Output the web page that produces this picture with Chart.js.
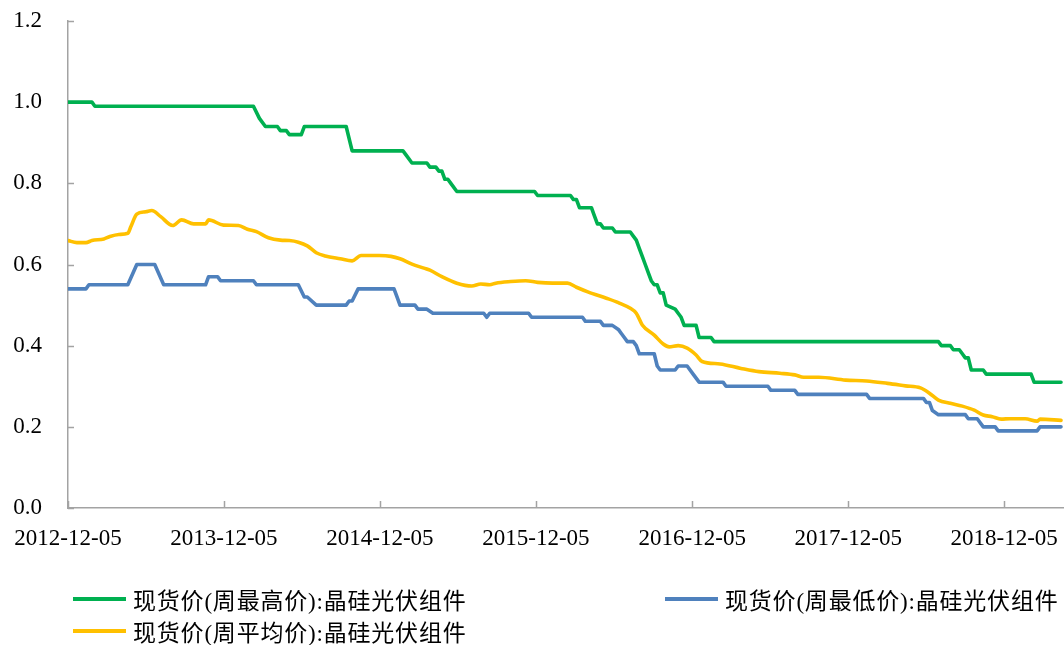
<!DOCTYPE html>
<html>
<head>
<meta charset="utf-8">
<script src="https://cdn.jsdelivr.net/npm/chart.js@4.4.0/dist/chart.umd.min.js"></script>
<style>
  html, body { margin: 0; padding: 0; background: #fff; }
  #wrap { position: relative; width: 1064px; height: 645px; overflow: hidden; }
  #c { position: absolute; left: 0; top: 0; }
  .leg { position: absolute; display: flex; align-items: center; height: 30px;
         font-family: "Liberation Serif", "Noto Sans CJK SC", serif; font-size: 23px;
         letter-spacing: 0.8px; color: #000; white-space: nowrap; }
  .sw { display: inline-block; width: 53px; height: 4px; margin-right: 7px; }
</style>
</head>
<body>
<div id="wrap">
  <canvas id="c" width="1064" height="645"></canvas>
  <div class="leg" id="leg0" style="left:73px;top:584px;"></div>
  <div class="leg" id="leg1" style="left:665px;top:584px;"></div>
  <div class="leg" id="leg2" style="left:73px;top:616px;"></div>
</div>
<script>
// Dates: weeks counted from the first observation
const startDate = '2012-12-05';
const tickLabels = ['2012-12-05','2013-12-05','2014-12-05','2015-12-05','2016-12-05','2017-12-05','2018-12-05'];
const yTicks = [0, 0.2, 0.4, 0.6, 0.8, 1.0, 1.2];

const seriesNames = ['现货价(周最高价):晶硅光伏组件', '现货价(周最低价):晶硅光伏组件', '现货价(周平均价):晶硅光伏组件'];

// 周最高价 (weeks since start, value)
const maxWeeks = [0,8,9,62,64,66,70,71,73,74,78,79,93,95,112,113,115,120,121,123,124,125,126,127,128,130,156,157,168,169,170,171,175,176,177,178,179,182,183,188,189,190,191,192,193,194,195,196,197,198,199,200,203,204,205,206,210,211,215,216,291,292,295,296,298,299,300,301,302,306,307,322,323,332];
const maxValues = [1.00,1.00,0.99,0.99,0.96,0.94,0.94,0.93,0.93,0.92,0.92,0.94,0.94,0.88,0.88,0.87,0.85,0.85,0.84,0.84,0.83,0.83,0.81,0.81,0.80,0.78,0.78,0.77,0.77,0.76,0.76,0.74,0.74,0.72,0.70,0.70,0.69,0.69,0.68,0.68,0.67,0.66,0.64,0.62,0.60,0.58,0.56,0.55,0.55,0.53,0.53,0.50,0.49,0.48,0.47,0.45,0.45,0.42,0.42,0.41,0.41,0.40,0.40,0.39,0.39,0.38,0.37,0.37,0.34,0.34,0.33,0.33,0.31,0.31];

// 周最低价
const minWeeks = [0,6,7,20,23,29,32,46,47,50,51,62,63,77,79,80,83,93,94,95,97,109,110,111,116,117,120,122,139,140,141,154,155,172,173,178,179,182,184,185,186,187,189,190,191,196,197,198,203,204,207,209,210,211,219,220,234,235,243,244,267,268,286,287,288,289,291,300,301,304,306,310,311,324,325,332];
const minValues = [0.54,0.54,0.55,0.55,0.60,0.60,0.55,0.55,0.57,0.57,0.56,0.56,0.55,0.55,0.52,0.52,0.50,0.50,0.51,0.51,0.54,0.54,0.52,0.50,0.50,0.49,0.49,0.48,0.48,0.47,0.48,0.48,0.47,0.47,0.46,0.46,0.45,0.45,0.44,0.43,0.42,0.41,0.41,0.40,0.38,0.38,0.35,0.34,0.34,0.35,0.35,0.33,0.32,0.31,0.31,0.30,0.30,0.29,0.29,0.28,0.28,0.27,0.27,0.26,0.26,0.24,0.23,0.23,0.22,0.22,0.20,0.20,0.19,0.19,0.20,0.20];

// 周平均价
const avgWeeks = [0,3,6,8,12,14,17,20,21,23,26,28,31,35,38,42,46,47,52,57,60,63,67,71,74,77,80,83,86,91,95,98,104,108,111,115,119,121,125,130,135,138,141,143,148,153,157,162,167,170,174,180,184,188,190,192,196,199,201,204,207,210,212,218,225,231,238,243,246,251,260,267,274,280,285,288,291,295,299,303,306,309,312,315,320,324,325,332];
const avgValues = [0.659,0.654,0.654,0.659,0.663,0.669,0.674,0.677,0.693,0.724,0.730,0.733,0.718,0.696,0.710,0.700,0.700,0.710,0.697,0.696,0.687,0.681,0.666,0.660,0.659,0.655,0.646,0.629,0.621,0.614,0.609,0.622,0.622,0.620,0.614,0.601,0.591,0.586,0.570,0.554,0.547,0.552,0.550,0.554,0.558,0.560,0.556,0.554,0.554,0.544,0.532,0.517,0.506,0.492,0.480,0.451,0.426,0.404,0.397,0.400,0.394,0.377,0.361,0.355,0.344,0.336,0.332,0.328,0.322,0.322,0.315,0.313,0.307,0.301,0.296,0.283,0.266,0.258,0.251,0.241,0.229,0.225,0.219,0.220,0.220,0.214,0.219,0.216];

const colors = ['#00B050', '#4F81BD', '#FFC000'];
const axisColor = '#a3a3a3';
const tickFont = { family: '"Liberation Serif", "Times New Roman", serif', size: 23 };

const WEEK_MS = 7 * 86400000;
const toWeek = d => (Date.parse(d) - Date.parse(startDate)) / WEEK_MS;
const tickWeeks = tickLabels.map(toWeek);
const pts = (ws, vs) => ws.map((w, i) => ({ x: w, y: vs[i] }));

const inwardTicks = {
  id: 'inwardTicks',
  beforeDatasetsDraw(chart) {
    const { ctx, chartArea, scales } = chart;
    ctx.save();
    ctx.strokeStyle = axisColor;
    ctx.lineWidth = 1.5;
    ctx.beginPath();
    scales.x.ticks.forEach(t => {
      const px = Math.round(scales.x.getPixelForValue(t.value)) + 0.5;
      ctx.moveTo(px, chartArea.bottom);
      ctx.lineTo(px, chartArea.bottom - 7);
    });
    scales.y.ticks.forEach(t => {
      const py = Math.round(scales.y.getPixelForValue(t.value)) + 0.5;
      ctx.moveTo(chartArea.left, py);
      ctx.lineTo(chartArea.left + 6, py);
    });
    ctx.stroke();
    ctx.restore();
  }
};

const ds = (i, w, v, extra) => Object.assign({
  label: seriesNames[i],
  data: pts(w, v),
  borderColor: colors[i],
  backgroundColor: colors[i],
  borderWidth: 3.6,
  pointRadius: 0,
  tension: 0,
  fill: false,
  borderJoinStyle: 'round',
  borderCapStyle: 'round'
}, extra || {});

new Chart(document.getElementById('c'), {
  type: 'line',
  data: {
    datasets: [
      ds(0, maxWeeks, maxValues, { order: 3 }),
      ds(1, minWeeks, minValues, { order: 2 }),
      ds(2, avgWeeks, avgValues, { order: 1, cubicInterpolationMode: 'monotone' })
    ]
  },
  options: {
    responsive: false,
    animation: false,
    devicePixelRatio: 1,
    layout: { padding: { top: 21, right: 0, bottom: 0, left: 0 } },
    plugins: { legend: { display: false }, tooltip: { enabled: false } },
    scales: {
      x: {
        type: 'linear',
        min: 0,
        max: 333,
        afterBuildTicks: s => { s.ticks = tickWeeks.map(v => ({ value: v })); },
        afterFit: s => { s.height = 137; s.paddingLeft = 0; s.paddingRight = 0; },
        grid: { display: false, drawTicks: false },
        border: { display: true, color: axisColor, width: 1.5 },
        ticks: {
          autoSkip: false, maxRotation: 0, minRotation: 0,
          padding: 17, color: '#000', font: tickFont,
          callback: (v, i) => tickLabels[i]
        }
      },
      y: {
        min: 0,
        max: 1.2,
        afterBuildTicks: s => { s.ticks = yTicks.map(v => ({ value: v })); },
        afterFit: s => { s.width = 68; s.paddingTop = 0; s.paddingBottom = 0; },
        grid: { display: false, drawTicks: false },
        border: { display: true, color: axisColor, width: 1.5 },
        ticks: {
          padding: 26, color: '#000', font: tickFont,
          callback: v => Number(v).toFixed(1)
        }
      }
    }
  },
  plugins: [inwardTicks]
});

// HTML legend built from series names/colours
['leg0', 'leg1', 'leg2'].forEach((id, i) => {
  const el = document.getElementById(id);
  const sw = document.createElement('span');
  sw.className = 'sw';
  sw.style.background = colors[i];
  const tx = document.createElement('span');
  tx.textContent = seriesNames[i];
  el.appendChild(sw);
  el.appendChild(tx);
});
</script>
</body>
</html>
